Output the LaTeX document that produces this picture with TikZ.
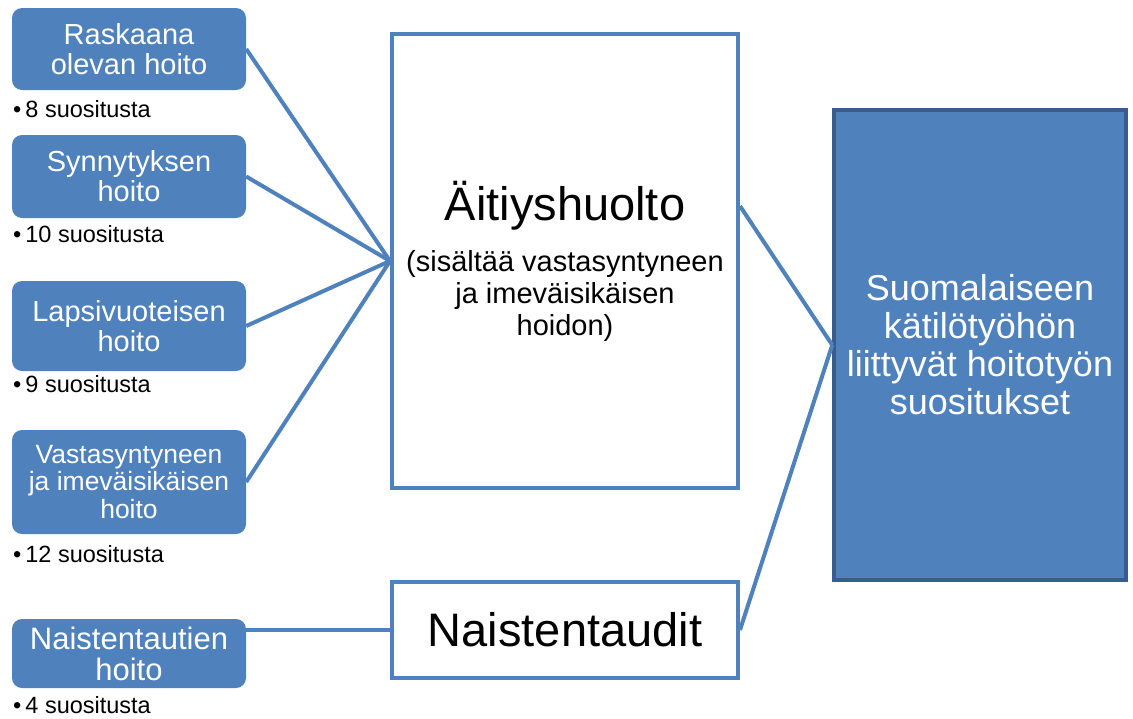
\documentclass[tikz,border=0pt]{standalone}
\usepackage{fontspec}
\setmainfont{Liberation Sans}
\usetikzlibrary{calc}
\definecolor{blu}{HTML}{4F81BD}
\definecolor{bludark}{HTML}{385D8A}

\begin{document}
\begin{tikzpicture}[
    x=1pt, y=-1pt,
    leaf/.style={fill=blu, rounded corners=10pt, text=white, align=center, minimum width=234pt, inner sep=0pt, font=\fontsize{29}{30}\selectfont},
    hub/.style={draw=blu, line width=4pt, fill=white, minimum width=346pt, align=center, inner sep=0pt},
    goal/.style={draw=bludark, line width=3.5pt, fill=blu, text=white, align=center, minimum width=292pt, minimum height=470pt, inner sep=0pt, font=\fontsize{36}{38}\selectfont},
    note/.style={anchor=base west, inner sep=0pt, font=\fontsize{23.5}{26}\selectfont},
    conn/.style={draw=blu, line width=4pt}
]
\useasboundingbox (0,0) rectangle (1133,718);

% left column
\node[leaf, minimum height=82pt] (rask) at (129,49) {Raskaana\\olevan hoito};
\node[leaf, minimum height=83pt] (synn) at (129,176.5) {Synnytyksen\\hoito};
\node[leaf, minimum height=90pt] (laps) at (129,326) {Lapsivuoteisen\\hoito};
\node[leaf, minimum height=104pt, font=\fontsize{26.5}{27.5}\selectfont] (vast) at (129,482) {Vastasyntyneen\\ja imeväisikäisen\\hoito};
\node[leaf, minimum height=69pt, font=\fontsize{31}{31}\selectfont] (nais) at (129,653.5) {Naistentautien\\hoito};

\node[note] (rasknum) at (13,117) {\textbullet\hspace{4pt}8 suositusta};
\node[note] (synnnum) at (13,242) {\textbullet\hspace{4pt}10 suositusta};
\node[note] (lapsnum) at (13,392) {\textbullet\hspace{4pt}9 suositusta};
\node[note] (vastnum) at (13,562) {\textbullet\hspace{4pt}12 suositusta};
\node[note] (naisnum) at (13,713) {\textbullet\hspace{4pt}4 suositusta};

% middle and right
\node[hub, minimum height=454pt, font=\fontsize{29}{32}\selectfont] (aiti) at (565,261)
    {{\fontsize{47}{50}\selectfont Äitiyshuolto}\\[19pt](sisältää vastasyntyneen\\ja imeväisikäisen\\hoidon)};
\node[hub, minimum height=96pt, font=\fontsize{47}{50}\selectfont] (naist) at (565,630) {Naistentaudit};
\node[goal] (suos) at (980,345) {Suomalaiseen\\kätilötyöhön\\liittyvät hoitotyön\\suositukset};

\coordinate (aitiout) at ($(aiti.north east)!0.38!(aiti.south east)$);

\foreach \src in {rask,synn,laps,vast}
    \draw[conn] (\src.east) -- (aiti.west);
\draw[conn] (naist.west) -- (naist.west -| nais.east);
\draw[conn] (aitiout) -- (suos.west);
\draw[conn] (naist.east) -- (suos.west);
\end{tikzpicture}
\end{document}
